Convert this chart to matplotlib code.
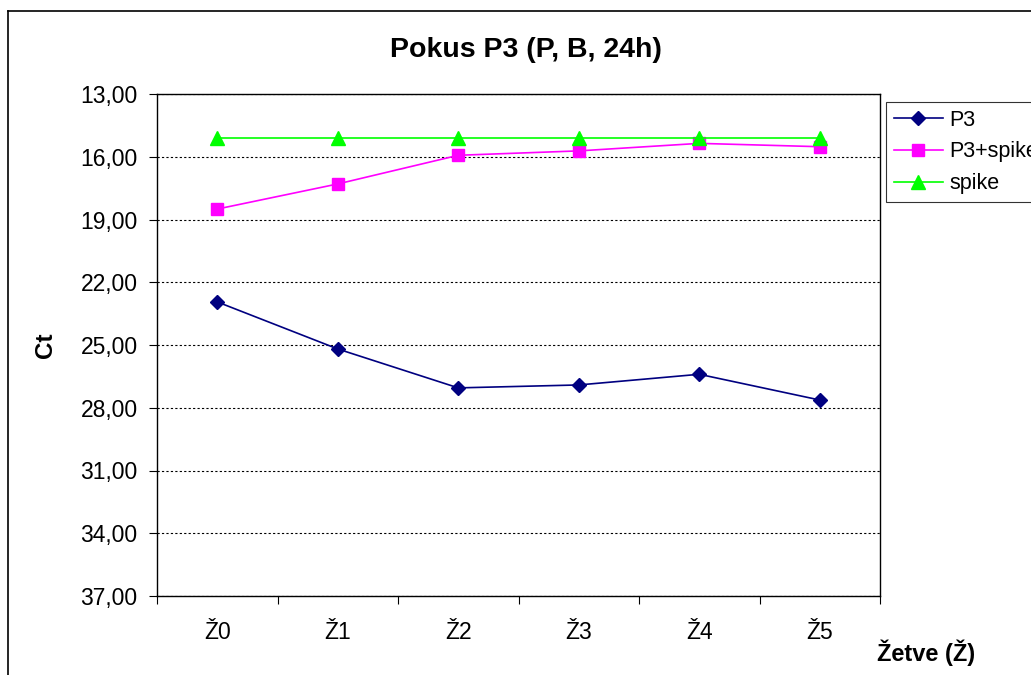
import matplotlib
matplotlib.use('Agg')
import matplotlib.pyplot as plt
from matplotlib.lines import Line2D
from matplotlib.ticker import FuncFormatter

plt.rcParams['font.family'] = ['Liberation Sans', 'DejaVu Sans']

# data
harvests = ['Ž0', 'Ž1', 'Ž2', 'Ž3', 'Ž4', 'Ž5']
p3 = [22.94, 25.19, 27.05, 26.91, 26.40, 27.63]
p3_spike = [18.50, 17.30, 15.93, 15.72, 15.36, 15.52]
spike = [15.12, 15.12, 15.12, 15.12, 15.12, 15.12]
y_ticks = [13, 16, 19, 22, 25, 28, 31, 34, 37]

W, H = 1031, 675
fig = plt.figure(figsize=(W / 100, H / 100), dpi=100)
ax = fig.add_axes([157 / W, 1 - 596 / H, (880 - 157) / W, (596 - 94) / H])

x = list(range(len(harvests)))
ax.plot(x, p3, color='#000080', lw=1.2, marker='D', ms=7.5, label='P3')
ax.plot(x, p3_spike, color='#FF00FF', lw=1.2, marker='s', ms=8, label='P3+spike')
ax.plot(x, spike, color='#00FF00', lw=1.2, marker='^', ms=9.5, label='spike')

# y axis (inverted, like Excel "values in reverse order")
ax.set_ylim(y_ticks[-1], y_ticks[0])
ax.set_yticks(y_ticks)
ax.yaxis.set_major_formatter(FuncFormatter(lambda v, p: f'{v:.2f}'.replace('.', ',')))
ax.grid(axis='y', color='black', linestyle=(0, (2, 2)), lw=0.8)
ax.set_axisbelow(True)

# x axis: labels at centers, tick marks between categories
ax.set_xlim(-0.5, len(harvests) - 0.5)
ax.set_xticks(x)
ax.set_xticklabels(harvests)
ax.set_xticks([i - 0.5 for i in range(len(harvests) + 1)], minor=True)
ax.tick_params(axis='x', which='major', length=0, pad=18, labelsize=16.5)
ax.tick_params(axis='x', which='minor', length=6, width=0.8, direction='out')
ax.tick_params(axis='y', length=6, width=0.8, direction='out', pad=8, labelsize=16.5)

for s in ax.spines.values():
    s.set_linewidth(1.0)
    s.set_color('black')

fig.text(526 / W, 1 - 50 / H, 'Pokus P3 (P, B, 24h)', ha='center', va='center',
         fontsize=20.5, fontweight='bold')
fig.text(45 / W, 1 - 345 / H, 'Ct', ha='center', va='center', rotation=90,
         fontsize=17.5, fontweight='bold')
fig.text(926 / W, 1 - 653 / H, 'Žetve (Ž)', ha='center', va='center',
         fontsize=17, fontweight='bold')

leg = fig.legend(loc='upper left', bbox_to_anchor=(886 / W, 1 - 102 / H),
                 fontsize=15.5, frameon=True, fancybox=False, edgecolor='black',
                 handlelength=2.3, handletextpad=0.3, borderpad=0.35,
                 borderaxespad=0, labelspacing=0.5)
leg.get_frame().set_linewidth(0.8)

# outer chart border (cut at right and bottom edges)
fig.add_artist(Line2D([8 / W, 8 / W], [0, 1 - 11 / H], color='black', lw=1.2,
                      transform=fig.transFigure))
fig.add_artist(Line2D([8 / W, 1], [1 - 11 / H, 1 - 11 / H], color='black', lw=1.2,
                      transform=fig.transFigure))

fig.savefig('out.png', dpi=100)
